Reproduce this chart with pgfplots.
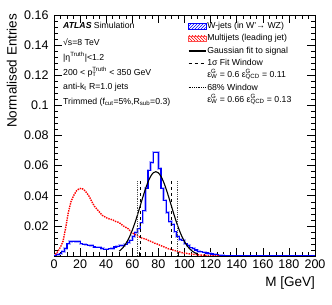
\documentclass[border=0pt]{standalone}
\usepackage{fontspec}
\setmainfont{Liberation Sans}
\usepackage{pgfplots}
\pgfplotsset{compat=1.18}
\usetikzlibrary{patterns}

\pgfplotstableread{
x y
0 0.0005
2 0.001
4 0.0015
6 0.003
8 0.005
10 0.008
12 0.0095
14 0.0098
16 0.0097
18 0.0095
20 0.008
22 0.0078
24 0.0075
26 0.0072
28 0.007
30 0.006
32 0.0058
34 0.0058
36 0.005
38 0.0045
40 0.0045
42 0.0048
44 0.005
46 0.006
48 0.0065
50 0.007
52 0.0068
54 0.0078
56 0.009
58 0.0105
60 0.013
62 0.0155
64 0.018
66 0.022
68 0.030
70 0.045
72 0.057
74 0.062
76 0.069
78 0.069
80 0.058
82 0.045
84 0.037
86 0.029
88 0.023
90 0.021
92 0.016
94 0.013
96 0.011
98 0.0105
100 0.008
102 0.007
104 0.0055
106 0.005
108 0.004
110 0.003
112 0.0028
114 0.0025
116 0.002
118 0.0017
120 0.0013
122 0.001
124 0.0008
126 0.0005
128 0.0003
130 0.0001
200 0.0001
}\wjets

\pgfplotstableread{
x y
1 0.001
3 0.003
5 0.006
7 0.010
9 0.019
11 0.029
13 0.036
15 0.040
17 0.043
19 0.0445
21 0.045
23 0.044
25 0.042
27 0.0395
29 0.036
31 0.033
33 0.031
35 0.029
37 0.027
39 0.026
41 0.025
43 0.0245
45 0.024
47 0.023
49 0.0225
51 0.0215
53 0.020
55 0.019
57 0.018
59 0.016
61 0.0148
63 0.014
65 0.013
67 0.012
69 0.0115
71 0.011
73 0.010
75 0.0095
77 0.0085
79 0.008
81 0.0072
83 0.0065
85 0.0058
87 0.005
89 0.0045
91 0.004
93 0.0035
95 0.003
97 0.0025
99 0.002
101 0.0018
103 0.0015
105 0.0013
107 0.0011
109 0.0009
111 0.0007
113 0.0006
115 0.0005
117 0.0004
119 0.0003
121 0.0002
123 0.0001
125 0.0001
127 0
}\multijets

\pgfplotstableread{
x y
50 0.0032
52 0.00474
54 0.00683
56 0.00956
58 0.0130
60 0.01716
62 0.0220
64 0.02737
66 0.0331
68 0.03886
70 0.0443
72 0.0491
74 0.0528
76 0.0552
78 0.0560
80 0.0552
82 0.0528
84 0.0491
86 0.0443
88 0.03886
90 0.0331
92 0.02737
94 0.0220
96 0.01716
98 0.0130
100 0.00956
102 0.00683
104 0.00474
106 0.0032
108 0.0021
110 0.00133
}\gaussfit

\begin{document}
\begin{tikzpicture}
\begin{axis}[
  scale only axis,
  width=261pt, height=241pt,
  xmin=0, xmax=200, ymin=0, ymax=0.16,
  xtick={0,20,40,60,80,100,120,140,160,180,200},
  minor x tick num=3,
  ytick={0,0.02,0.04,0.06,0.08,0.1,0.12,0.14,0.16},
  yticklabels={,0.02,0.04,0.06,0.08,0.1,0.12,0.14,0.16},
  minor y tick num=4,
  tick align=inside,
  xtick pos=both, ytick pos=both,
  xticklabel pos=bottom, yticklabel pos=left,
  major tick length=8pt, minor tick length=4pt,
  every tick/.style={black, line width=0.5pt},
  axis line style={line width=0.8pt},
  /pgf/number format/assume math mode=true,
  tick label style={font=\fontsize{12.5}{14}\selectfont},
  y tick label style={xshift=-2pt},
  xlabel={M [GeV]},
  ylabel={Normalised Entries},
  label style={font=\fontsize{13.5}{15}\selectfont},
  xlabel style={at={(rel axis cs:1,-0.087)}, anchor=north east, inner sep=0pt},
  ylabel style={at={(rel axis cs:-0.1418,1.006)}, anchor=south east, inner sep=0pt},
  legend style={font=\fontsize{8.7}{10}\selectfont, draw=none, fill=none,
    at={(rel axis cs:0.513,0.975)}, anchor=north west, inner sep=0pt,
    row sep=2pt, nodes={inner sep=1pt, text height=6.3pt, text depth=2pt}},
  legend cell align=left,
]
% legend images
\addlegendimage{area legend, draw=blue, pattern=north east lines, pattern color=blue}
\addlegendentry{W-jets (in W'→ WZ)}
\addlegendimage{area legend, draw=red!70, pattern=north west lines, pattern color=red}
\addlegendentry{Multijets (leading jet)}
\addlegendimage{black, line width=1.1pt}
\addlegendentry{Gaussian fit to signal}
\addlegendimage{black, dashed, line width=1pt}
\addlegendentry{1σ Fit Window}
\addlegendimage{empty legend}
\addlegendentry{ε\rlap{\textsuperscript{G}}\textsubscript{W} = 0.6 ε\rlap{\textsuperscript{G}}\textsubscript{QCD} = 0.11}
\addlegendimage{black, densely dotted, line width=0.8pt}
\addlegendentry{68\% Window}
\addlegendimage{empty legend}
\addlegendentry{ε\rlap{\textsuperscript{G}}\textsubscript{W} = 0.66 ε\rlap{\textsuperscript{G}}\textsubscript{QCD} = 0.13}

% data
\addplot[forget plot, const plot mark left, blue!30, line width=2.4pt] table[x=x,y=y] {\wjets};
\addplot[forget plot, const plot mark left, blue, line width=1.1pt] table[x=x,y=y] {\wjets};
\addplot[forget plot, red, densely dotted, line width=1.4pt] table[x=x,y=y] {\multijets};
\addplot[forget plot, black, line width=1.1pt, smooth] table[x=x,y=y] {\gaussfit};
\addplot[forget plot, black, dashed, line width=1pt] coordinates {(66.5,0) (66.5,0.0495)};
\addplot[forget plot, black, dashed, line width=1pt] coordinates {(89.7,0) (89.7,0.0495)};
\addplot[forget plot, black!70, densely dotted, line width=0.8pt] coordinates {(64.2,0) (64.2,0.050)};
\addplot[forget plot, black!70, densely dotted, line width=0.8pt] coordinates {(94.6,0) (94.6,0.050)};

% annotations
\begin{scope}[every node/.style={anchor=west, inner sep=0pt, font=\fontsize{8.7}{10}\selectfont}]
\node at (rel axis cs:0.0345,0.9585) {\textbf{\textit{ATLAS}} Simulation};
\node at (rel axis cs:0.0345,0.888) {√s=8 TeV};
\node at (rel axis cs:0.0345,0.826) {|η\textsuperscript{Truth}|<1.2};
\node at (rel axis cs:0.0345,0.763) {200 < p\rlap{\textsubscript{T}}\textsuperscript{Truth} < 350 GeV};
\node at (rel axis cs:0.0345,0.701) {anti-k\textsubscript{t} R=1.0 jets};
\node at (rel axis cs:0.0345,0.639) {Trimmed (f\textsubscript{cut}=5\%,R\textsubscript{sub}=0.3)};
\end{scope}
\end{axis}
\pgfresetboundingbox
\path[use as bounding box] (-54pt,-49pt) rectangle (278pt,256pt);
\end{tikzpicture}
\end{document}
